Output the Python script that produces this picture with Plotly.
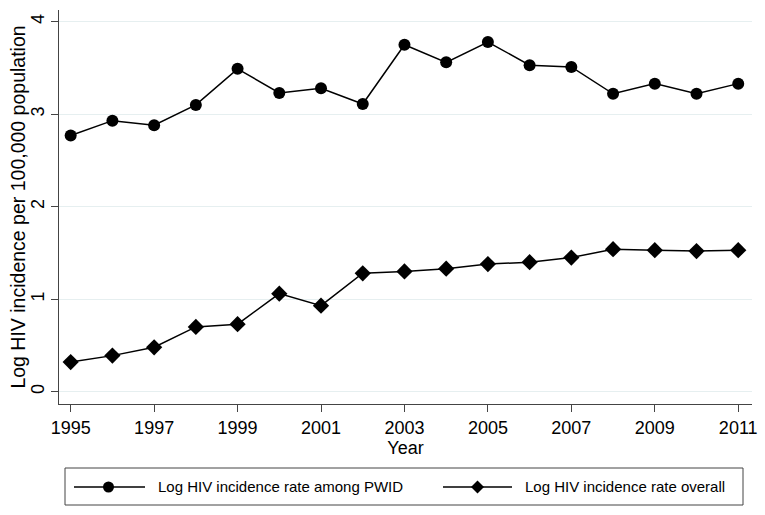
import plotly.graph_objects as go

years = list(range(1995, 2012))
pwid = [2.77, 2.93, 2.88, 3.10, 3.49, 3.23, 3.28, 3.11, 3.75, 3.56, 3.78, 3.53, 3.51, 3.22, 3.33, 3.22, 3.33]
overall = [0.32, 0.39, 0.48, 0.70, 0.73, 1.06, 0.93, 1.28, 1.30, 1.33, 1.38, 1.40, 1.45, 1.54, 1.53, 1.52, 1.53]
x_ticks = [1995, 1997, 1999, 2001, 2003, 2005, 2007, 2009, 2011]
y_ticks = [0, 1, 2, 3, 4]
series_names = ["Log HIV incidence rate among PWID", "Log HIV incidence rate overall"]

FONT = "Liberation Sans, Arial, Helvetica, sans-serif"
W, H = 765, 515
ML, MR, MT, MB = 59, 13, 10, 111
PW, PH = W - ML - MR, H - MT - MB


def px_x(px):
    return (px - ML) / PW


def px_y(py):
    return (H - MB - py) / PH


fig = go.Figure()
fig.add_trace(go.Scatter(
    x=years, y=pwid, mode="lines+markers", name=series_names[0],
    line=dict(color="black", width=1.5),
    marker=dict(symbol="circle", size=12, color="black"),
))
fig.add_trace(go.Scatter(
    x=years, y=overall, mode="lines+markers", name=series_names[1],
    line=dict(color="black", width=1.5),
    marker=dict(symbol="diamond", size=12.5, color="black"),
))

# custom legend (Stata style) drawn in paper coordinates
shapes = [dict(type="rect", xref="paper", yref="paper",
               x0=px_x(65), x1=px_x(743), y0=px_y(505), y1=px_y(468),
               line=dict(color="#444", width=1), fillcolor="white", layer="above")]
annotations = []
ly = px_y(487)
# item 1
shapes.append(dict(type="line", xref="paper", yref="paper", x0=px_x(74), x1=px_x(145), y0=ly, y1=ly,
                   line=dict(color="black", width=1.5)))
shapes.append(dict(type="circle", xref="paper", yref="paper", xsizemode="pixel", ysizemode="pixel",
                   xanchor=px_x(108.5), yanchor=ly, x0=-5.5, x1=5.5, y0=-5.5, y1=5.5,
                   fillcolor="black", line=dict(color="black", width=0)))
annotations.append(dict(xref="paper", yref="paper", x=px_x(156), y=ly, xanchor="left", yanchor="middle",
                        text=series_names[0], showarrow=False, font=dict(size=15, family=FONT, color="black")))
# item 2
shapes.append(dict(type="line", xref="paper", yref="paper", x0=px_x(443), x1=px_x(512), y0=ly, y1=ly,
                   line=dict(color="black", width=1.5)))
shapes.append(dict(type="path", xref="paper", yref="paper", xsizemode="pixel", ysizemode="pixel",
                   xanchor=px_x(477.5), yanchor=ly, path="M -6.5 0 L 0 6.5 L 6.5 0 L 0 -6.5 Z",
                   fillcolor="black", line=dict(color="black", width=0)))
annotations.append(dict(xref="paper", yref="paper", x=px_x(523), y=ly, xanchor="left", yanchor="middle",
                        text=series_names[1], showarrow=False, font=dict(size=15, family=FONT, color="black")))

fig.update_layout(
    width=W, height=H,
    margin=dict(l=ML, r=MR, t=MT, b=MB, autoexpand=False),
    paper_bgcolor="white", plot_bgcolor="white",
    font=dict(family=FONT, color="black"),
    showlegend=False,
    shapes=shapes,
    annotations=annotations,
    xaxis=dict(
        range=[1994.72, 2011.33], tickmode="array", tickvals=x_ticks,
        ticktext=[str(t) for t in x_ticks],
        showgrid=False, zeroline=False, automargin=False,
        showline=True, linecolor="#444", linewidth=1,
        ticks="outside", ticklen=7, tickcolor="#444",
        tickfont=dict(size=18),
        title=dict(text="Year", font=dict(size=18), standoff=0),
    ),
    yaxis=dict(
        range=[-0.133, 4.126], tickmode="array", tickvals=y_ticks,
        showgrid=True, gridcolor="#e6eff0", gridwidth=1, zeroline=False, automargin=False,
        showline=True, linecolor="#444", linewidth=1,
        ticks="outside", ticklen=7, tickcolor="#444",
        tickangle=-90, tickfont=dict(size=18),
        title=dict(text="Log HIV incidence per 100,000 population", font=dict(size=19.5), standoff=1),
    ),
)
fig.update_yaxes(title_standoff=1)

fig.write_html(
    "out.html",
    config={"displayModeBar": False},
    post_script="document.body.style.margin='0';document.body.style.padding='0';"
                "var t=document.querySelector('.ytitle');"
                "if(t){var tr=t.getAttribute('transform')||'';t.setAttribute('transform','translate(5,0) '+tr);}",
)
